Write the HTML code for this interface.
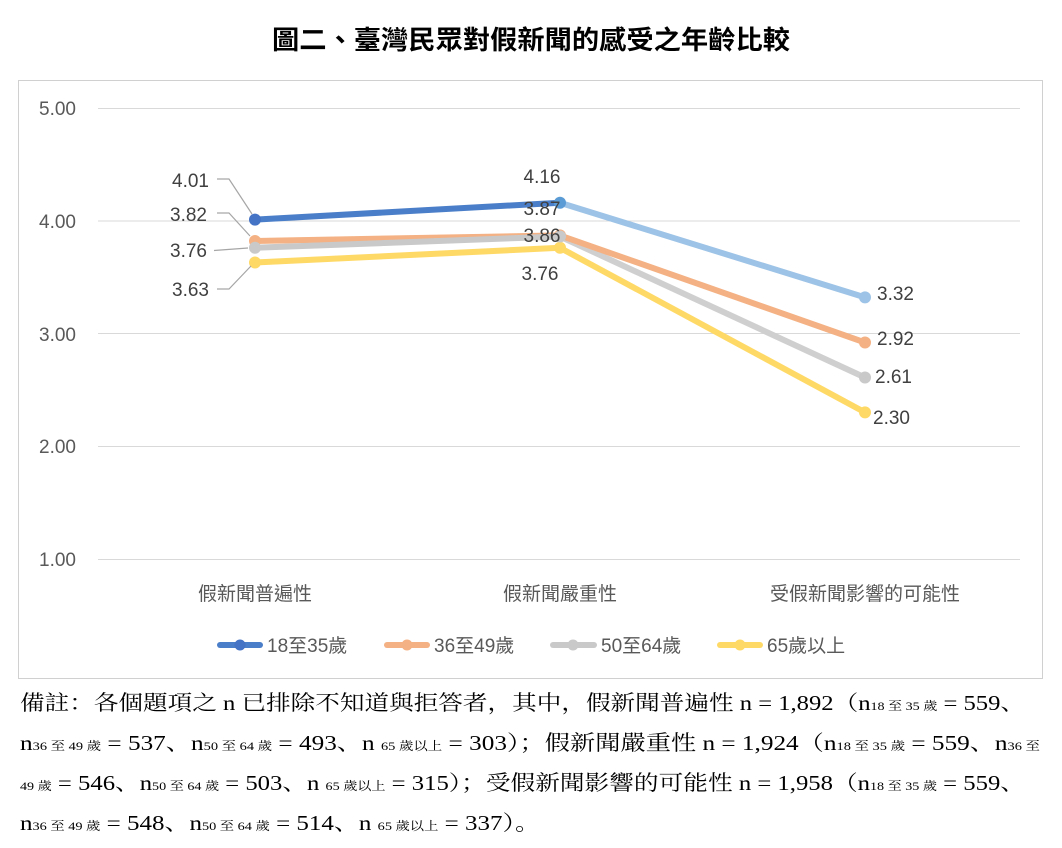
<!DOCTYPE html>
<html><head><meta charset="utf-8"><style>
body{margin:0;background:#fff;}
svg{display:block}
.sans{font-family:"Liberation Sans","Noto Sans CJK TC",sans-serif;}
.serif{font-family:"Liberation Serif","Noto Serif CJK SC",serif;}
</style></head><body>
<svg width="1062" height="848" viewBox="0 0 1062 848">
<text x="531" y="49" text-anchor="middle" class="sans" font-size="26" font-weight="bold" fill="#000" textLength="518" lengthAdjust="spacingAndGlyphs">圖二、臺灣民眾對假新聞的感受之年齡比較</text>
<rect x="18.5" y="80.5" width="1024" height="598" fill="#fff" stroke="#d0d0d0"/>
<g stroke="#d9d9d9" stroke-width="1">
<line x1="98" y1="108.5" x2="1020" y2="108.5"/>
<line x1="98" y1="221" x2="1020" y2="221"/>
<line x1="98" y1="333.5" x2="1020" y2="333.5"/>
<line x1="98" y1="446.5" x2="1020" y2="446.5"/>
<line x1="98" y1="559.5" x2="1020" y2="559.5"/>
</g>
<g class="sans" font-size="19" fill="#595959" text-anchor="end">
<text x="76" y="115">5.00</text><text x="76" y="228">4.00</text><text x="76" y="341">3.00</text><text x="76" y="453">2.00</text><text x="76" y="566">1.00</text>
</g>
<g class="sans" font-size="19" fill="#595959" text-anchor="middle">
<text x="255" y="600">假新聞普遍性</text><text x="560" y="600">假新聞嚴重性</text><text x="865" y="600">受假新聞影響的可能性</text>
</g>
<g fill="none" stroke-width="6" stroke-linecap="round">
<polyline points="865,412.4 560,247.8" stroke="#ffd966"/>
<polyline points="255,262.5 560,247.8" stroke="#ffd966"/>
<polyline points="865,377.5 560,236.5" stroke="#cfcfcf"/>
<polyline points="865,342.5 560,235.4" stroke="#f4b183"/>
<polyline points="255,241 560,235.4" stroke="#f4b183"/>
<polyline points="255,247.8 560,236.5" stroke="#c9c9c9"/>
<polyline points="865,297.4 560,202.7" stroke="#9dc3e6"/>
<polyline points="255,219.6 560,202.7" stroke="#4a7ec8"/>
</g>
<g>
<circle cx="255" cy="262.5" r="6" fill="#ffd966"/><circle cx="560" cy="247.8" r="6" fill="#ffd966"/><circle cx="865" cy="412.4" r="6" fill="#ffd966"/>
<circle cx="255" cy="241" r="6" fill="#f4b183"/><circle cx="560" cy="235.4" r="6" fill="#f4b183"/><circle cx="865" cy="342.5" r="6" fill="#f4b183"/>
<circle cx="255" cy="247.8" r="6" fill="#c9c9c9"/><circle cx="560" cy="236.5" r="6" fill="#c9c9c9"/><circle cx="865" cy="377.5" r="6" fill="#c9c9c9"/>
<circle cx="255" cy="219.6" r="6" fill="#4472c4"/><circle cx="560" cy="202.7" r="6" fill="#5b9bd5"/><circle cx="865" cy="297.4" r="6" fill="#9dc3e6"/>
</g>
<g stroke="#a6a6a6" stroke-width="1.2" fill="none">
<polyline points="217,179 229,179 252,214"/>
<polyline points="217,213 229,213 250,236"/>
<polyline points="214,250.5 248,248"/>
<polyline points="217,289 229,289 251,266"/>
</g>
<g class="sans" font-size="19" fill="#404040">
<text x="209" y="187" text-anchor="end">4.01</text>
<text x="207" y="221" text-anchor="end">3.82</text>
<text x="207" y="257" text-anchor="end">3.76</text>
<text x="209" y="296" text-anchor="end">3.63</text>
<text x="542" y="183" text-anchor="middle">4.16</text>
<text x="542" y="215" text-anchor="middle">3.87</text>
<text x="542" y="242" text-anchor="middle">3.86</text>
<text x="540" y="280" text-anchor="middle">3.76</text>
<text x="877" y="300">3.32</text>
<text x="877" y="345">2.92</text>
<text x="875" y="383">2.61</text>
<text x="873" y="424">2.30</text>
</g>
<g stroke-width="6" stroke-linecap="round">
<line x1="220" y1="645" x2="260" y2="645" stroke="#4a7ec8"/><circle cx="240" cy="645" r="5.5" fill="#4472c4"/>
<line x1="387" y1="645" x2="427" y2="645" stroke="#f4b183"/><circle cx="407" cy="645" r="5.5" fill="#f4b183"/>
<line x1="553" y1="645" x2="594" y2="645" stroke="#c9c9c9"/><circle cx="573" cy="645" r="5.5" fill="#c9c9c9"/>
<line x1="720" y1="645" x2="760" y2="645" stroke="#ffd966"/><circle cx="740" cy="645" r="5.5" fill="#ffd966"/>
</g>
<g class="sans" font-size="19" fill="#595959">
<text x="267" y="652">18至35歲</text><text x="434" y="652">36至49歲</text><text x="601" y="652">50至64歲</text><text x="767" y="652">65歲以上</text>
</g>
<g class="serif" font-size="21" fill="#000">
<text x="20" y="710" textLength="1005" lengthAdjust="spacingAndGlyphs">備註：各個題項之 n 已排除不知道與拒答者，其中，假新聞普遍性 n = 1,892（n<tspan font-size="12">18 至 35 歲</tspan> = 559、</text>
<text x="20" y="750" textLength="1020" lengthAdjust="spacingAndGlyphs">n<tspan font-size="12">36 至 49 歲</tspan> = 537、n<tspan font-size="12">50 至 64 歲</tspan> = 493、n <tspan font-size="12">65 歲以上</tspan> = 303）；假新聞嚴重性 n = 1,924（n<tspan font-size="12">18 至 35 歲</tspan> = 559、n<tspan font-size="12">36 至</tspan></text>
<text x="20" y="790" textLength="1005" lengthAdjust="spacingAndGlyphs"><tspan font-size="12">49 歲</tspan> = 546、n<tspan font-size="12">50 至 64 歲</tspan> = 503、n <tspan font-size="12">65 歲以上</tspan> = 315）；受假新聞影響的可能性 n = 1,958（n<tspan font-size="12">18 至 35 歲</tspan> = 559、</text>
<text x="20" y="830" textLength="520" lengthAdjust="spacingAndGlyphs">n<tspan font-size="12">36 至 49 歲</tspan> = 548、n<tspan font-size="12">50 至 64 歲</tspan> = 514、n <tspan font-size="12">65 歲以上</tspan> = 337）。</text>
</g>
</svg>
</body></html>
